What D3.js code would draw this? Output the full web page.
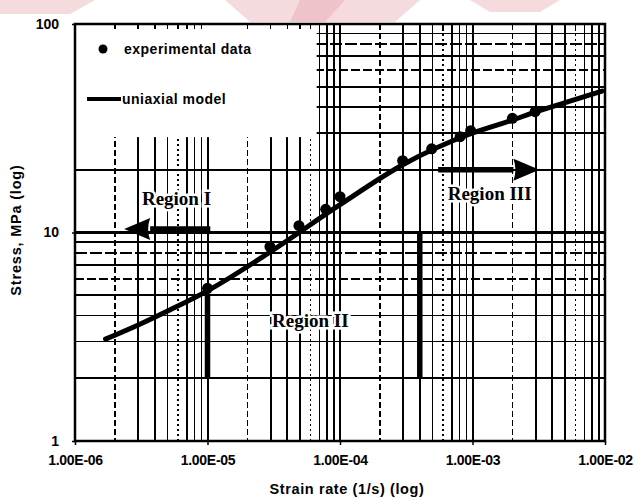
<!DOCTYPE html>
<html>
<head>
<meta charset="utf-8">
<script src="https://cdn.jsdelivr.net/npm/d3@7"></script>
<style>
  html, body { margin: 0; padding: 0; background: #fff; }
  svg { display: block; }
</style>
</head>
<body>
<svg id="chart" width="640" height="499"></svg>
<script>
// ---- data ----
const xTickValues = [1e-6, 1e-5, 1e-4, 1e-3, 1e-2];
const xTickLabels = ["1.00E-06", "1.00E-05", "1.00E-04", "1.00E-03", "1.00E-02"];
const yTickValues = [1, 10, 100];
const yTickLabels = ["1", "10", "100"];

// experimental data
const expRate   = [1.0e-5, 2.96e-5, 4.9e-5, 7.8e-5, 1.0e-4, 2.97e-4, 4.92e-4, 8.06e-4, 9.68e-4, 2.0e-3, 2.97e-3];
const expStress = [5.40, 8.55, 10.78, 12.92, 14.85, 22.1, 25.2, 28.8, 30.8, 35.3, 37.96];

// uniaxial model curve
const modelRate   = [1.7e-6, 3e-6, 5e-6, 1e-5, 3e-5, 1e-4, 3e-4, 1e-3, 2e-3, 3e-3, 5e-3, 9.5e-3];
const modelStress = [3.08, 3.6, 4.2, 5.25, 8.1, 13.6, 21.2, 30.0, 34.6, 37.9, 42.0, 47.7];

// region annotations
const regionNames  = ["Region I", "Region II", "Region III"];
const regionLabelRate   = [3.2e-6, 3.07e-5, 6.5e-4];
const regionLabelStress = [13.5, 3.52, 14.3];
const boundaryRate      = [1e-5, 4e-4];
const boundaryLow       = [2, 2];
const boundaryHigh      = [5.1, 10];
const arrowFromRate     = [1.05e-5, 5.5e-4];
const arrowToRate       = [2.35e-6, 3.2e-3];
const arrowStress       = [10.4, 20];

const legendLabels = ["experimental data", "uniaxial model"];
const xTitle = "Strain rate (1/s) (log)";
const yTitle = "Stress, MPa (log)";

// ---- layout ----
const svg = d3.select("#chart");
const L = 75, R = 605, T = 24, B = 441;

// pale watermark at top
const wm = svg.append("g").attr("fill", "#f2cfd3").attr("opacity", 0.75);
wm.append("polygon").attr("points", "0,0 95,0 70,14 0,14");
wm.append("polygon").attr("points", "225,0 420,0 395,22 250,22");
wm.append("polygon").attr("points", "470,0 560,0 540,12 490,12");
svg.append("polygon").attr("points", "300,0 345,0 325,22 290,22").attr("fill", "#eab3ba").attr("opacity", 0.6);

const x = d3.scaleLog().domain([1e-6, 1e-2]).range([L, R]);
const y = d3.scaleLog().domain([1, 100]).range([B, T]);

// ---- grid ----
const minorMult = [2, 3, 4, 5, 6, 7, 8, 9];
const vDash = {2: "6,3", 3: null, 4: null, 5: null, 6: "2,3", 7: null, 8: null, 9: null};
const hDash = {2: null, 3: null, 4: null, 5: null, 6: "9,3", 7: null, 8: "12,3", 9: null};
const grid = svg.append("g").attr("stroke", "#000").attr("fill", "none").attr("shape-rendering", "crispEdges");

const xMinor = [];
for (const d of [1e-6, 1e-5, 1e-4, 1e-3]) for (const m of minorMult) xMinor.push({v: d * m, m});
const yMinor = [];
for (const d of [1, 10]) for (const m of minorMult) yMinor.push({v: d * m, m});

grid.selectAll("line.vx").data(xMinor).join("line")
  .attr("x1", d => x(d.v)).attr("x2", d => x(d.v))
  .attr("y1", T).attr("y2", B)
  .attr("stroke-width", 1.6)
  .attr("stroke-dasharray", d => vDash[d.m]);
grid.selectAll("line.hy").data(yMinor).join("line")
  .attr("x1", L).attr("x2", R)
  .attr("y1", d => y(d.v)).attr("y2", d => y(d.v))
  .attr("stroke-width", 1.6)
  .attr("stroke-dasharray", d => hDash[d.m]);
// major grid
grid.selectAll("line.vmaj").data(xTickValues.slice(1, -1)).join("line")
  .attr("x1", d => x(d)).attr("x2", d => x(d)).attr("y1", T).attr("y2", B)
  .attr("stroke-width", 2);
grid.selectAll("line.hmaj").data([10]).join("line")
  .attr("x1", L).attr("x2", R).attr("y1", d => y(d)).attr("y2", d => y(d))
  .attr("stroke-width", 2.4);

// legend box (covers grid)
svg.append("rect").attr("x", L + 1).attr("y", T + 1).attr("width", x(6.9e-5) - L - 3).attr("height", y(29) - T)
  .attr("fill", "#fff");

// top inward ticks
const topTicks = svg.append("g").attr("stroke", "#000").attr("stroke-width", 1.5).attr("shape-rendering", "crispEdges");
topTicks.selectAll("line").data(xMinor).join("line")
  .attr("x1", d => x(d.v)).attr("x2", d => x(d.v)).attr("y1", T).attr("y2", T + 5);

// ---- frame and axes ----
svg.append("rect").attr("x", L).attr("y", T).attr("width", R - L).attr("height", B - T)
  .attr("fill", "none").attr("stroke", "#000").attr("stroke-width", 2.5);

const fontSans = "'Liberation Sans', Arial, sans-serif";

const xAxis = d3.axisBottom(x).tickValues(xTickValues)
  .tickFormat((d, i) => xTickLabels[i]).tickSize(4).tickPadding(10);
const gx = svg.append("g").attr("transform", `translate(0,${B})`).call(xAxis);
gx.select(".domain").remove();
gx.selectAll("line").attr("stroke", "#000").attr("stroke-width", 1.5);
gx.selectAll("text").attr("font-family", fontSans).attr("font-weight", "bold")
  .attr("font-size", 14).attr("fill", "#000").attr("letter-spacing", "-0.3");

const yAxis = d3.axisLeft(y).tickValues(yTickValues)
  .tickFormat((d, i) => yTickLabels[i]).tickSize(3).tickPadding(13);
const gy = svg.append("g").attr("transform", `translate(${L},0)`).call(yAxis);
gy.select(".domain").remove();
gy.selectAll("line").attr("stroke", "#000").attr("stroke-width", 1.5);
gy.selectAll("text").attr("font-family", fontSans).attr("font-weight", "bold")
  .attr("font-size", 14).attr("fill", "#000");

svg.append("text").attr("x", (L + R) / 2 + 7).attr("y", 494).attr("text-anchor", "middle")
  .attr("font-family", fontSans).attr("font-weight", "bold").attr("font-size", 14.5)
  .attr("letter-spacing", "0.6").text(xTitle);
svg.append("text").attr("transform", `translate(21,230) rotate(-90)`).attr("text-anchor", "middle")
  .attr("font-family", fontSans).attr("font-weight", "bold").attr("font-size", 14.5)
  .attr("letter-spacing", "0.8").text(yTitle);

// ---- region boundaries and arrows ----
const ann = svg.append("g");
ann.selectAll("line.bnd").data(boundaryRate).join("line")
  .attr("x1", d => x(d)).attr("x2", d => x(d))
  .attr("y1", (d, i) => y(boundaryLow[i])).attr("y2", (d, i) => y(boundaryHigh[i]))
  .attr("stroke", "#000").attr("stroke-width", 5.5);

arrowFromRate.forEach((r, i) => {
  const x0 = x(r), x1 = x(arrowToRate[i]), yy = y(arrowStress[i]);
  const dir = x1 > x0 ? 1 : -1;
  const headLen = 26, half = 11;
  const xb = x1 - dir * headLen;
  ann.append("line").attr("x1", x0).attr("x2", xb).attr("y1", yy).attr("y2", yy)
    .attr("stroke", "#000").attr("stroke-width", 5.5);
  ann.append("path")
    .attr("d", `M${x1},${yy} L${xb},${yy - half} Q${xb + dir * 4},${yy} ${xb},${yy + half} Z`)
    .attr("fill", "#000");
});

const fontSerif = "'Liberation Serif', 'Times New Roman', serif";
// white backing behind labels so grid doesn't cross text
ann.selectAll("text.reg").data(regionNames).join("text")
  .attr("x", (d, i) => x(regionLabelRate[i])).attr("y", (d, i) => y(regionLabelStress[i]))
  .attr("font-family", fontSerif).attr("font-weight", "bold").attr("font-size", 19)
  .attr("text-anchor", "start").attr("fill", "#000")
  .attr("stroke", "#fff").attr("stroke-width", 5).attr("paint-order", "stroke")
  .text(d => d);

// ---- model curve ----
const modelPts = modelRate.map((r, i) => [r, modelStress[i]]);
const line = d3.line().x(d => x(d[0])).y(d => y(d[1])).curve(d3.curveMonotoneX);
svg.append("path").datum(modelPts).attr("d", line)
  .attr("fill", "none").attr("stroke", "#000").attr("stroke-width", 5).attr("stroke-linecap", "round");

// ---- experimental points ----
svg.append("g").selectAll("circle").data(expRate.map((r, i) => [r, expStress[i]])).join("circle")
  .attr("cx", d => x(d[0])).attr("cy", d => y(d[1])).attr("r", 5.5).attr("fill", "#000");

// ---- legend ----
const lg = svg.append("g").attr("font-family", fontSans).attr("font-weight", "bold").attr("font-size", 14);
lg.append("circle").attr("cx", 103).attr("cy", 49).attr("r", 4.5).attr("fill", "#000");
lg.append("text").attr("x", 124).attr("y", 54).attr("letter-spacing", "0.5").text(legendLabels[0]);
lg.append("line").attr("x1", 87).attr("x2", 121).attr("y1", 99).attr("y2", 99)
  .attr("stroke", "#000").attr("stroke-width", 4);
lg.append("text").attr("x", 122).attr("y", 104).attr("letter-spacing", "0.5").text(legendLabels[1]);
</script>
</body>
</html>
